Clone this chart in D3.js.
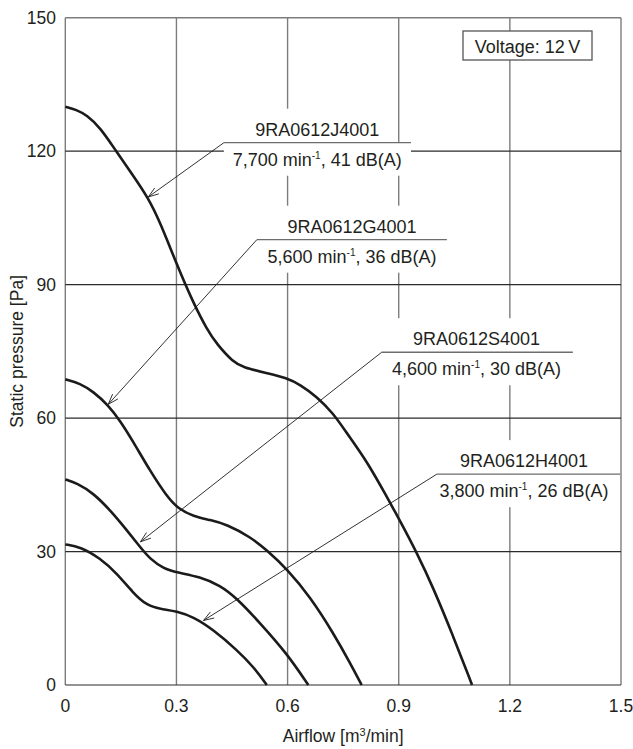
<!DOCTYPE html>
<html><head><meta charset="utf-8">
<script src="https://cdn.jsdelivr.net/npm/d3@7"></script>
<style>
html,body{margin:0;padding:0;background:#fff;}
svg{display:block;}
text{font-family:"Liberation Sans",Arial,Helvetica,sans-serif;fill:#231f20;}
</style></head>
<body>
<svg id="chart" width="633" height="749"></svg>
<script>
// ---- data ----
const xTicks = [0, 0.3, 0.6, 0.9, 1.2, 1.5];
const xTickLabels = ["0", "0.3", "0.6", "0.9", "1.2", "1.5"];
const yTicks = [0, 30, 60, 90, 120, 150];
const yTickLabels = ["0", "30", "60", "90", "120", "150"];

const airflowJ  = [0, 0.030, 0.058, 0.094, 0.134, 0.179, 0.224, 0.256, 0.301, 0.346, 0.382, 0.409, 0.453, 0.480, 0.544, 0.598, 0.634, 0.679, 0.723, 0.760, 0.814, 0.868, 0.904, 0.949, 0.993, 1.047, 1.098];
const pressureJ = [130, 129.3, 128.1, 125.3, 120.4, 115.0, 109.5, 104.0, 94.5, 85.8, 80.0, 76.6, 72.6, 71.4, 70.1, 69.0, 67.5, 64.8, 61.1, 56.6, 50.3, 42.3, 36.8, 29.7, 21.9, 11.0, 0];

const airflowG  = [0, 0.040, 0.076, 0.116, 0.148, 0.184, 0.229, 0.274, 0.305, 0.346, 0.391, 0.436, 0.499, 0.544, 0.598, 0.661, 0.724, 0.769, 0.800];
const pressureG = [68.7, 67.8, 65.9, 62.9, 59.4, 54.6, 48.1, 42.4, 39.6, 37.9, 37.1, 36.1, 33.3, 30.3, 26.1, 19.8, 11.6, 4.9, 0];

const airflowS  = [0, 0.031, 0.076, 0.121, 0.166, 0.202, 0.229, 0.265, 0.301, 0.364, 0.418, 0.463, 0.526, 0.598, 0.656];
const pressureS = [46.2, 45.4, 43.1, 39.3, 34.8, 31.0, 28.3, 26.2, 25.3, 24.3, 22.4, 19.5, 13.9, 7.1, 0];

const airflowH  = [0, 0.040, 0.094, 0.139, 0.184, 0.220, 0.256, 0.301, 0.346, 0.400, 0.463, 0.508, 0.544];
const pressureH = [31.6, 31.1, 28.5, 25.1, 20.6, 17.9, 17.1, 16.6, 15.3, 12.4, 7.9, 4.1, 0];

const modelNames = ["9RA0612J4001", "9RA0612G4001", "9RA0612S4001", "9RA0612H4001"];
const speeds = ["7,700", "5,600", "4,600", "3,800"];
const noise = ["41", "36", "30", "26"];
// annotation anchors in data units: underline start/end and level, text centre, arrow tip
const underlineStart = [0.428, 0.517, 0.854, 1.003];
const underlineEnd   = [0.933, 1.030, 1.370, 1.498];
const underlineLevel = [121.9, 100.1, 74.8, 47.4];
const labelCenter    = [0.680, 0.774, 1.110, 1.238];
const tipAirflow     = [0.224, 0.116, 0.203, 0.373];
const tipPressure    = [109.7, 63.1, 32.2, 14.5];

const voltageText = "Voltage: 12\u2009V";

// ---- layout ----
const svg = d3.select("#chart");
const L = 65.3, R = 621, T = 17.7, B = 685;
const x = d3.scaleLinear().domain([0, 1.5]).range([L, R]);
const y = d3.scaleLinear().domain([0, 150]).range([B, T]);

const series = [
  {xs: airflowJ, ys: pressureJ},
  {xs: airflowG, ys: pressureG},
  {xs: airflowS, ys: pressureS},
  {xs: airflowH, ys: pressureH}
];

// grid
const gGrid = svg.append("g");
gGrid.selectAll("line.v").data(xTicks).join("line")
  .attr("x1", d => x(d)).attr("x2", d => x(d))
  .attr("y1", y(150)).attr("y2", y(0))
  .attr("stroke", "#7d7d7d").attr("stroke-width", 1.4);
gGrid.selectAll("line.h").data(yTicks).join("line")
  .attr("x1", x(0)).attr("x2", x(1.5))
  .attr("y1", d => y(d)).attr("y2", d => y(d))
  .attr("stroke", d => d === 150 ? "#7d7d7d" : "#2b2b2b")
  .attr("stroke-width", d => d === 150 ? 1.4 : 1.2);

// tick labels
svg.append("g").selectAll("text").data(yTicks).join("text")
  .attr("x", 56).attr("y", d => y(d) + 6)
  .attr("text-anchor", "end").style("font-size", "17.5px")
  .text((d, i) => yTickLabels[i]);
svg.append("g").selectAll("text").data(xTicks).join("text")
  .attr("x", d => x(d)).attr("y", 712)
  .attr("text-anchor", "middle").style("font-size", "17.5px")
  .text((d, i) => xTickLabels[i]);

// axis titles
const xt = svg.append("text").attr("x", (L + R) / 2).attr("y", 742)
  .attr("text-anchor", "middle").style("font-size", "17.5px");
xt.append("tspan").text("Airflow [m");
xt.append("tspan").text("3").attr("dy", -6).style("font-size", "11px");
xt.append("tspan").text("/min]").attr("dy", 6);
svg.append("text")
  .attr("transform", `translate(23,${(T + B) / 2}) rotate(-90)`)
  .attr("text-anchor", "middle").style("font-size", "17.5px")
  .text("Static pressure [Pa]");

// labels with white knockout boxes
const gLab = svg.append("g");
modelNames.forEach((name, i) => {
  const uy = y(underlineLevel[i]);
  const ux0 = x(underlineStart[i]), ux1 = x(underlineEnd[i]);
  const cx = x(labelCenter[i]);
  const g = gLab.append("g");
  const bg1 = g.append("rect").attr("fill", "#fff");
  const bg2 = g.append("rect").attr("fill", "#fff");
  const t1 = g.append("text").attr("x", cx).attr("y", uy - 7)
    .attr("text-anchor", "middle").style("font-size", "18px").text(name);
  const t2 = g.append("text").attr("x", cx).attr("y", uy + 23)
    .attr("text-anchor", "middle").style("font-size", "18px");
  t2.append("tspan").text(speeds[i] + " min");
  t2.append("tspan").text("-1").attr("dy", -7).style("font-size", "10px");
  t2.append("tspan").text(", " + noise[i] + " dB(A)").attr("dy", 7);
  const b1 = t1.node().getBBox();
  bg1.attr("x", b1.x - 15).attr("width", b1.width + 30)
    .attr("y", uy - 34).attr("height", 34);
  const b2 = t2.node().getBBox();
  const bx0 = Math.min(ux0, b2.x - 6), bx1 = Math.max(ux1, b2.x + b2.width + 6);
  bg2.attr("x", bx0).attr("width", Math.min(bx1, R - 1) - bx0)
    .attr("y", uy).attr("height", 33);
  g.append("line").attr("x1", ux0).attr("x2", ux1).attr("y1", uy).attr("y2", uy)
    .attr("stroke", "#6d6d6d").attr("stroke-width", 1.3);
});

// voltage box
const vb = svg.append("g");
vb.append("rect").attr("x", 463).attr("y", 31).attr("width", 129).attr("height", 29)
  .attr("fill", "#fff").attr("stroke", "#555").attr("stroke-width", 1.3);
vb.append("text").attr("x", 527.5).attr("y", 52.5).attr("text-anchor", "middle")
  .style("font-size", "18px").text(voltageText);

// curves
const line = d3.line().x(d => x(d[0])).y(d => y(d[1])).curve(d3.curveBasis);
svg.append("g").selectAll("path").data(series).join("path")
  .attr("d", s => line(s.xs.map((v, k) => [v, s.ys[k]])))
  .attr("fill", "none").attr("stroke", "#1b1b1b").attr("stroke-width", 2.6)
  .attr("stroke-linejoin", "round");

// leader lines with open arrowheads
const gArr = svg.append("g").attr("stroke", "#1b1b1b").attr("stroke-width", 0.9).attr("fill", "none");
modelNames.forEach((name, i) => {
  const sx = x(underlineStart[i]), sy = y(underlineLevel[i]);
  const tx = x(tipAirflow[i]), ty = y(tipPressure[i]);
  gArr.append("line").attr("x1", sx).attr("y1", sy).attr("x2", tx).attr("y2", ty);
  const ang = Math.atan2(sy - ty, sx - tx);
  const len = 11, spread = 0.33;
  const p1 = [tx + len * Math.cos(ang + spread), ty + len * Math.sin(ang + spread)];
  const p2 = [tx + len * Math.cos(ang - spread), ty + len * Math.sin(ang - spread)];
  gArr.append("path").attr("d", `M${p1[0]},${p1[1]}L${tx},${ty}L${p2[0]},${p2[1]}`);
});
</script>
</body></html>
